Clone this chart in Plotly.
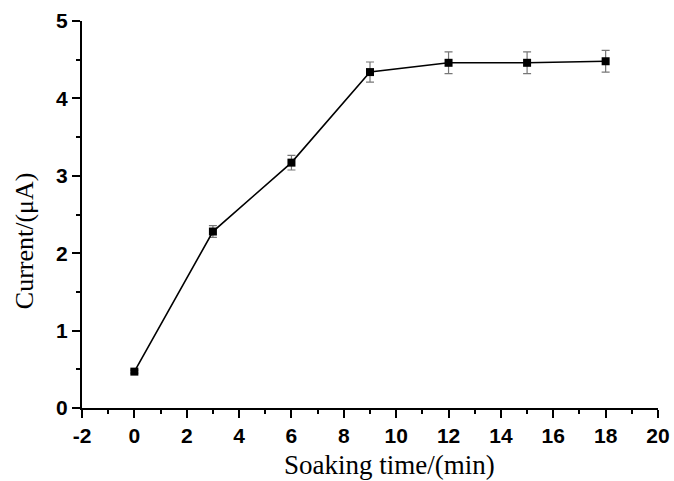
import plotly.graph_objects as go

# Soaking time (min) vs. peak current (µA)
soak_time = [0, 3, 6, 9, 12, 15, 18]
current = [0.47, 2.28, 3.17, 4.34, 4.46, 4.46, 4.48]
current_err = [0.02, 0.075, 0.095, 0.13, 0.14, 0.14, 0.14]

x_ticks = [-2, 0, 2, 4, 6, 8, 10, 12, 14, 16, 18, 20]
y_ticks = [0, 1, 2, 3, 4, 5]

fig = go.Figure()
fig.add_trace(go.Scatter(
    x=soak_time,
    y=current,
    mode="lines+markers",
    line=dict(color="black", width=1.6),
    marker=dict(symbol="square", size=8, color="black"),
    error_y=dict(type="data", array=current_err, visible=True,
                 color="#777777", thickness=1.2, width=4),
    showlegend=False,
))

tick_font = dict(family="Liberation Sans, Arial, sans-serif", size=21,
                 color="black", weight="bold")
serif = "Liberation Serif, Times New Roman, serif"

fig.update_layout(
    width=674,
    height=481,
    margin=dict(l=82, r=16, t=21, b=73, autoexpand=False),
    paper_bgcolor="white",
    plot_bgcolor="white",
    xaxis=dict(
        range=[-2, 20],
        automargin=False,
        tickvals=x_ticks,
        ticktext=[str(v) for v in x_ticks],
        ticks="outside", ticklen=8, tickwidth=1.8, tickcolor="black",
        minor=dict(ticks="outside", ticklen=4, tickwidth=1.5, tickcolor="black", dtick=1, tick0=-2),
        showline=True, linecolor="black", linewidth=2,
        showgrid=False, zeroline=False,
        tickfont=tick_font,
    ),
    yaxis=dict(
        range=[0, 5],
        automargin=False,
        tickvals=y_ticks,
        ticktext=[str(v) for v in y_ticks],
        ticks="outside", ticklen=8, tickwidth=1.8, tickcolor="black",
        minor=dict(ticks="outside", ticklen=4, tickwidth=1.5, tickcolor="black", dtick=0.5, tick0=0),
        showline=True, linecolor="black", linewidth=2,
        showgrid=False, zeroline=False,
        tickfont=tick_font,
    ),
    annotations=[
        dict(text="Soaking time/(min)", xref="paper", yref="paper",
             x=0.533, y=-0.148, xanchor="center", yanchor="middle",
             showarrow=False, font=dict(family=serif, size=27, color="black")),
        dict(text="Current/(μA)", xref="paper", yref="paper",
             x=-0.1, y=0.432, xanchor="center", yanchor="middle", textangle=-90,
             showarrow=False, font=dict(family=serif, size=26, color="black")),
    ],
)

fig.write_html("out.html")
